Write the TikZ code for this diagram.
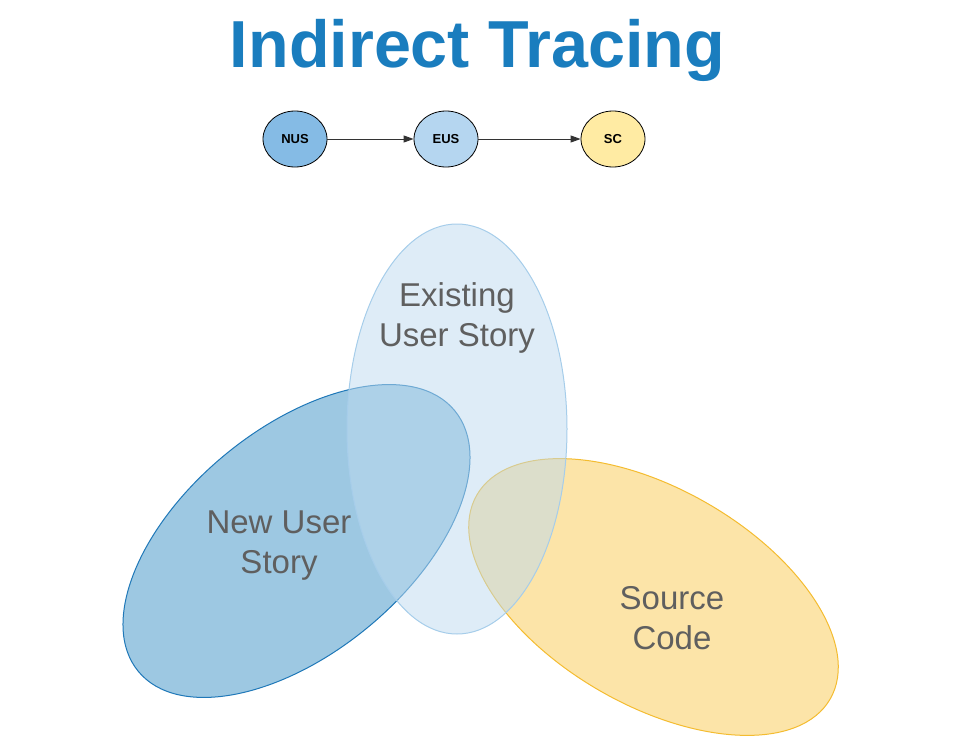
\documentclass[tikz,border=0pt]{standalone}
\usepackage{fontspec}
\setmainfont{Liberation Sans}
\usetikzlibrary{arrows.meta,positioning,shapes.geometric}
\definecolor{titleblue}{HTML}{1A7DBE}
\definecolor{nusfill}{HTML}{85BBE5}
\definecolor{eusfill}{HTML}{B5D6F0}
\definecolor{scfill}{HTML}{FFEBA3}
\definecolor{newfill}{HTML}{9DC8E2}
\definecolor{newline}{HTML}{1F78B8}
\definecolor{exfill}{HTML}{BDDAEF}
\definecolor{exline}{HTML}{A6CDEA}
\definecolor{srcfill}{HTML}{FCE4A8}
\definecolor{srcline}{HTML}{F4BC30}
\definecolor{txtgray}{HTML}{5F5F5F}
\tikzset{
  tag/.style={ellipse,draw=black,line width=0.8pt,minimum width=64pt,minimum height=56pt,
    inner sep=0pt,font=\fontsize{13}{15}\selectfont\bfseries},
  nyil/.style={-{Triangle[length=10pt,width=7pt]},draw=black!80,line width=0.9pt},
  lbl/.style={align=center,text=txtgray,font=\fontsize{33}{40}\selectfont},
}
\begin{document}
\begin{tikzpicture}[x=1pt,y=-1pt]
  \useasboundingbox (0,0) rectangle (964,752);
  \node[font=\fontsize{66.5}{70}\selectfont\bfseries,text=titleblue] (title) at (477.5,50) {Indirect Tracing};
  % chain
  \node[tag,fill=nusfill] (nus) at (295,139) {NUS};
  \node[tag,fill=eusfill] (eus) at (446,139) {EUS};
  \node[tag,fill=scfill] (sc) at (613,139) {SC};
  \draw[nyil] (nus) -- (eus);
  \draw[nyil] (eus) -- (sc);
  % sets
  \draw[fill=newfill,draw=newline,line width=1pt,rotate around={39.5:(296.5,541)}]
    (296.5,541) ellipse [x radius=205,y radius=112];
  \draw[fill=srcfill,draw=srcline,line width=1pt,rotate around={-30:(653.5,597)}]
    (653.5,597) ellipse [x radius=204,y radius=108];
  \draw[fill=exfill,fill opacity=0.5,draw=exline,line width=1pt]
    (457,429) ellipse [x radius=110,y radius=205];
  \node[lbl] (exlbl) at (457,318) {Existing\\User Story};
  \node[lbl] (newlbl) at (279,546) {New User\\Story};
  \node[lbl] (srclbl) at (672,618) {Source\\Code};
\end{tikzpicture}
\end{document}
